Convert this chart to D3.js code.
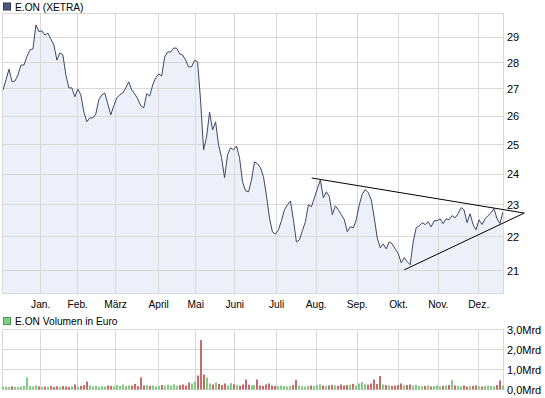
<!DOCTYPE html>
<html><head><meta charset="utf-8">
<script src="https://cdn.jsdelivr.net/npm/d3@7"></script>
<style>
html,body{margin:0;padding:0;background:#fff;}
svg{display:block;font-family:"Liberation Sans",Arial,sans-serif;}
</style></head>
<body><svg id="c" width="545" height="398"></svg>
<script>
// ---- data ----
const priceTitle = "E.ON (XETRA)";
const volumeTitle = "E.ON Volumen in Euro";
const prices = [
 26.96,27.34,27.75,27.27,27.30,27.53,27.91,27.91,28.24,28.50,
 28.54,29.50,29.23,29.26,29.09,29.17,28.93,28.69,28.10,28.38,
 28.30,27.53,27.04,27.04,26.71,27.00,26.78,26.16,25.80,25.94,
 25.94,26.08,26.60,26.78,26.85,26.45,26.05,26.38,26.67,26.78,
 26.85,27.04,27.27,26.96,26.82,26.63,26.38,26.30,26.82,26.74,
 27.15,27.42,27.57,27.49,28.22,28.42,28.42,28.57,28.57,28.34,
 28.30,28.10,27.84,27.84,28.10,28.03,26.56,24.82,25.27,26.15,
 25.51,25.80,24.99,24.55,23.88,24.65,24.89,24.82,24.95,24.55,
 23.75,23.45,23.42,23.81,24.41,24.35,24.21,23.91,23.29,22.59,
 22.15,22.09,22.22,22.50,22.84,23.00,23.12,22.53,21.85,21.91,
 22.19,22.47,23.00,22.94,23.22,23.52,23.81,23.22,23.42,23.26,
 22.69,22.97,22.84,22.69,22.53,22.16,22.31,22.28,22.53,23.00,
 23.35,23.49,23.39,23.16,22.59,21.97,21.67,21.79,21.64,21.85,
 21.79,21.64,21.50,21.23,21.38,21.26,21.17,21.85,22.28,22.34,
 22.44,22.38,22.47,22.31,22.50,22.50,22.56,22.41,22.56,22.53,
 22.66,22.59,22.72,22.91,22.84,22.44,22.72,22.38,22.22,22.53,
 22.38,22.56,22.66,22.75,22.88,22.56,22.41,22.78
];
const volumes = [ // Mrd Euro
 0.15,0.14,0.12,0.16,0.13,0.12,0.15,0.18,0.60,0.17,
 0.15,0.20,0.16,0.13,0.15,0.14,0.18,0.12,0.16,0.14,
 0.17,0.15,0.13,0.16,0.25,0.14,0.18,0.22,0.40,0.20,
 0.16,0.19,0.14,0.17,0.15,0.20,0.18,0.16,0.22,0.18,
 0.25,0.17,0.20,0.19,0.28,0.17,0.60,0.20,0.22,0.18,
 0.20,0.16,0.18,0.22,0.19,0.24,0.20,0.26,0.18,0.22,
 0.25,0.20,0.35,0.30,0.40,0.70,2.47,0.75,0.60,0.30,
 0.25,0.35,0.28,0.22,0.30,0.20,0.32,0.26,0.22,0.18,
 0.25,0.50,0.24,0.20,0.22,0.50,0.20,0.18,0.25,0.30,
 0.20,0.18,0.16,0.20,0.17,0.15,0.18,0.22,0.47,0.20,
 0.16,0.15,0.18,0.20,0.17,0.22,0.25,0.20,0.18,0.20,
 0.22,0.20,0.18,0.25,0.20,0.22,0.24,0.28,0.20,0.30,
 0.37,0.26,0.24,0.30,0.50,0.28,0.67,0.25,0.22,0.20,
 0.18,0.20,0.22,0.30,0.20,0.22,0.25,0.20,0.24,0.18,
 0.16,0.18,0.20,0.15,0.17,0.20,0.16,0.18,0.20,0.22,
 0.47,0.20,0.18,0.16,0.20,0.15,0.17,0.18,0.20,0.16,
 0.15,0.18,0.20,0.17,0.16,0.22,0.45,0.20
];
const monthLabels = ["Jan.","Feb.","März","April","Mai","Juni","Juli","Aug.","Sep.","Okt.","Nov.","Dez."];
const monthPos = [12.6,24.95,37.6,52.0,64.4,77.4,91.4,104.6,118.3,132.1,145.4,158.9]; // index of month start
const priceTicks = [21,22,23,24,25,26,27,28,29];
const volumeTicks = [0,1,2,3];
const upperTrend = [[103.1,23.87],[174.1,22.74]];
const lowerTrend = [[134.0,21.02],[174.1,22.74]];

// ---- layout ----
const svg = d3.select("#c");
const L = 3, R = 503;
const x = d3.scaleLinear().domain([0, prices.length-1]).range([L, R]);
const y = d3.scaleLog().domain([20.35, 29.98]).range([293.3, 13.3]);
const yv = d3.scaleLinear().domain([0, 3]).range([389.5, 329.5]);
const gridC = "#d9d9d9";
const crisp = v => Math.round(v - 0.5) + 0.5;

// price panel grid
const gp = svg.append("g");
gp.selectAll("line.h").data(priceTicks).join("line")
  .attr("x1", L).attr("x2", R+1).attr("y1", d=>crisp(y(d))).attr("y2", d=>crisp(y(d)))
  .attr("stroke", gridC);
gp.selectAll("line.v").data(monthPos).join("line")
  .attr("x1", d=>crisp(x(d))).attr("x2", d=>crisp(x(d))).attr("y1", 13).attr("y2", 294)
  .attr("stroke", gridC);

// area + line
const area = d3.area().x((d,i)=>x(i)).y0(293.5).y1(d=>y(d));
svg.append("path").datum(prices).attr("d", area).attr("fill", "#eef0f9");
gp.raise();
svg.append("path").datum(prices)
  .attr("d", d3.line().x((d,i)=>x(i)).y(d=>y(d)))
  .attr("fill","none").attr("stroke","#3d4868").attr("stroke-width",1);

// border
svg.append("rect").attr("x", L-0.5).attr("y", 13.5).attr("width", R-L+1).attr("height", 280)
  .attr("fill","none").attr("stroke", gridC);

// trend lines
[upperTrend, lowerTrend].forEach(t => {
  svg.append("line")
    .attr("x1", x(t[0][0])).attr("y1", y(t[0][1]))
    .attr("x2", x(t[1][0])).attr("y2", y(t[1][1]))
    .attr("stroke","#000").attr("stroke-width",1);
});

// price axis labels
svg.append("g").selectAll("text").data(priceTicks).join("text")
  .attr("x", 507).attr("y", d=>y(d)+4).attr("font-size", 11).attr("fill","#000")
  .text(d=>d);

// month labels
svg.append("g").selectAll("text").data(monthPos).join("text")
  .attr("x", d=>x(d)).attr("y", 307.5).attr("text-anchor","middle")
  .attr("font-size", 10.2).attr("fill","#000")
  .text((d,i)=>monthLabels[i]);

// legends
function legend(yTop, color, stroke, label){
  svg.append("rect").attr("x",3.5).attr("y",yTop+0.5).attr("width",7).attr("height",7)
    .attr("fill",color).attr("stroke",stroke);
  svg.append("text").attr("x",15).attr("y",yTop+8).attr("font-size",10.2).attr("fill","#000").text(label);
}
legend(2.5, "#4c5878", "#2e3650", priceTitle);
legend(317, "#7fd07f", "#4a9a4a", volumeTitle);

// volume panel grid
const gv = svg.append("g");
gv.selectAll("line.h").data(volumeTicks).join("line")
  .attr("x1", L).attr("x2", R+1).attr("y1", d=>crisp(yv(d))).attr("y2", d=>crisp(yv(d)))
  .attr("stroke", gridC);
gv.selectAll("line.v").data(monthPos).join("line")
  .attr("x1", d=>crisp(x(d))).attr("x2", d=>crisp(x(d))).attr("y1", 329.5).attr("y2", 389.5)
  .attr("stroke", gridC);
gv.append("line").attr("x1", L-0.5).attr("x2", L-0.5).attr("y1", 329.5).attr("y2", 389.5).attr("stroke", gridC);
gv.append("line").attr("x1", R+0.5).attr("x2", R+0.5).attr("y1", 329.5).attr("y2", 389.5).attr("stroke", gridC);

// volume bars
svg.append("g").selectAll("rect").data(volumes).join("rect")
  .attr("x", (d,i)=>Math.round(x(i))-1).attr("width", 2)
  .attr("y", d=>yv(d)).attr("height", d=>yv(0)-yv(d))
  .attr("fill", (d,i)=> (i>0 && prices[i] < prices[i-1]) ? "#c86a6a" : "#80cc80");

// volume labels
svg.append("g").selectAll("text").data(volumeTicks).join("text")
  .attr("x", 507).attr("y", d=>yv(d)+4).attr("font-size", 11).attr("fill","#000")
  .text(d=> d3.format(".1f")(d).replace(".", ",") + "Mrd");
</script></body></html>
